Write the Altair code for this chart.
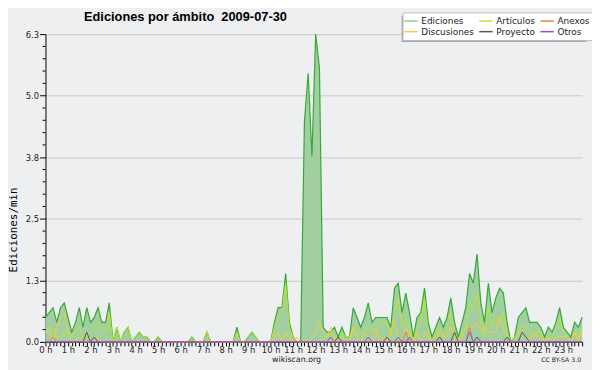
import altair as alt
import pandas as pd

TITLE = "Ediciones por ámbito\u00a0 2009-07-30"
Y_TITLE = "Ediciones/min"
FOOTER_LEFT = "wikiscan.org"
FOOTER_RIGHT = "CC BY-SA 3.0"

# legend is filled column by column: (Ediciones, Discusiones), (Artículos, Proyecto), (Anexos, Otros)
SERIES = ["Ediciones", "Discusiones", "Artículos", "Proyecto", "Anexos", "Otros"]
LEGEND_COLORS = ["#8fd08f", "#f8c840", "#bde52e", "#555555", "#f07848", "#8a4ff0"]
AREA_FILL = "#a2cfa2"
EDIT_LINE = "#36a836"
BG = "#eeeff1"

# one point every 10 minutes, 00:00 .. 23:50
MINUTES = list(range(0, 1440, 10))

Y_TICKS = [0.0, 1.26, 2.52, 3.78, 5.04, 6.3]
Y_MINOR = [0.252, 0.504, 0.756, 1.008, 1.512, 1.764, 2.016, 2.268, 2.772, 3.024,
           3.276, 3.528, 4.032, 4.284, 4.536, 4.788, 5.292, 5.544, 5.796, 6.048]

EDICIONES = [
    0.5, 0.6, 0.7, 0.4, 0.7, 0.8,   # 0 h
    0.5, 0.2, 0.4, 0.7, 0.3, 0.7,   # 1 h
    0.4, 0.5, 0.7, 0.4, 0.4, 0.8,   # 2 h
    0.0, 0.3, 0.0, 0.2, 0.3, 0.0,   # 3 h
    0.1, 0.2, 0.1, 0.1, 0.0, 0.0,   # 4 h
    0.1, 0.0, 0.0, 0.0, 0.0, 0.0,   # 5 h
    0.0, 0.0, 0.0, 0.1, 0.0, 0.0,   # 6 h
    0.0, 0.2, 0.0, 0.0, 0.0, 0.0,   # 7 h
    0.0, 0.0, 0.0, 0.3, 0.0, 0.0,   # 8 h
    0.1, 0.2, 0.1, 0.0, 0.0, 0.0,   # 9 h
    0.0, 0.4, 0.7, 0.7, 1.4, 0.4,   # 10 h
    0.1, 0.0, 0.0, 4.5, 5.5, 3.8,   # 11 h
    6.3, 5.6, 0.3, 0.2, 0.2, 0.3,   # 12 h
    0.1, 0.3, 0.1, 0.1, 0.7, 0.5,   # 13 h
    0.3, 0.5, 0.8, 0.4, 0.5, 0.5,   # 14 h
    0.5, 0.5, 0.3, 1.1, 1.2, 0.6,   # 15 h
    1.0, 0.6, 0.1, 0.5, 0.6, 1.1,   # 16 h
    0.4, 0.1, 0.3, 0.5, 0.3, 0.5,   # 17 h
    0.9, 0.4, 0.1, 0.4, 0.7, 1.4,   # 18 h
    1.2, 1.8, 0.8, 0.4, 1.2, 0.6,   # 19 h
    0.9, 1.1, 1.0, 0.4, 0.0, 0.1,   # 20 h
    0.5, 0.6, 0.7, 0.4, 0.4, 0.4,   # 21 h
    0.3, 0.1, 0.3, 0.2, 0.4, 0.7,   # 22 h
    0.3, 0.2, 0.1, 0.4, 0.3, 0.5,   # 23 h
]

ARTICULOS = [
    0.2, 0.3, 0.2, 0.1, 0.1, 0.2,
    0.2, 0.1, 0.2, 0.3, 0.1, 0.1,
    0.2, 0.3, 0.4, 0.2, 0.2, 0.6,
    0.0, 0.3, 0.0, 0.2, 0.3, 0.0,
    0.1, 0.2, 0.1, 0.1, 0.0, 0.0,
    0.1, 0.0, 0.0, 0.0, 0.0, 0.0,
    0.0, 0.0, 0.0, 0.1, 0.0, 0.0,
    0.0, 0.2, 0.0, 0.0, 0.0, 0.0,
    0.0, 0.0, 0.0, 0.2, 0.0, 0.0,
    0.1, 0.2, 0.1, 0.0, 0.0, 0.0,
    0.0, 0.3, 0.5, 0.6, 1.2, 0.3,
    0.1, 0.0, 0.0, 0.0, 0.0, 0.0,
    0.0, 0.0, 0.1, 0.1, 0.2, 0.1,
    0.0, 0.2, 0.1, 0.1, 0.3, 0.2,
    0.2, 0.2, 0.3, 0.2, 0.3, 0.4,
    0.4, 0.4, 0.1, 0.6, 0.9, 0.3,
    0.5, 0.3, 0.0, 0.3, 0.4, 0.9,
    0.2, 0.0, 0.2, 0.3, 0.1, 0.3,
    0.6, 0.2, 0.0, 0.2, 0.3, 0.8,
    0.7, 1.0, 0.4, 0.1, 0.7, 0.3,
    0.5, 0.4, 0.6, 0.2, 0.0, 0.1,
    0.2, 0.3, 0.3, 0.2, 0.1, 0.2,
    0.2, 0.0, 0.1, 0.1, 0.3, 0.5,
    0.2, 0.1, 0.0, 0.2, 0.1, 0.3,
]

DISCUSIONES = [
    0.2, 0.2, 0.0, 0.3, 0.5, 0.6,
    0.2, 0.0, 0.0, 0.1, 0.0, 0.0,
    0.0, 0.1, 0.1, 0.0, 0.0, 0.0,
    0.0, 0.0, 0.0, 0.0, 0.0, 0.0,
    0.0, 0.0, 0.0, 0.0, 0.0, 0.0,
    0.0, 0.0, 0.0, 0.0, 0.0, 0.0,
    0.0, 0.0, 0.0, 0.0, 0.0, 0.0,
    0.0, 0.0, 0.0, 0.0, 0.0, 0.0,
    0.0, 0.0, 0.0, 0.0, 0.0, 0.0,
    0.0, 0.0, 0.0, 0.0, 0.0, 0.0,
    0.0, 0.1, 0.2, 0.0, 0.2, 0.1,
    0.0, 0.1, 0.0, 0.0, 0.0, 0.1,
    0.2, 0.4, 0.2, 0.1, 0.3, 0.0,
    0.0, 0.1, 0.0, 0.0, 0.3, 0.1,
    0.0, 0.2, 0.1, 0.0, 0.3, 0.0,
    0.1, 0.0, 0.2, 0.4, 0.1, 0.0,
    0.3, 0.1, 0.0, 0.2, 0.0, 0.2,
    0.1, 0.0, 0.0, 0.2, 0.1, 0.1,
    0.3, 0.1, 0.0, 0.1, 0.3, 0.3,
    0.3, 0.4, 0.2, 0.3, 0.2, 0.2,
    0.2, 0.5, 0.3, 0.1, 0.0, 0.0,
    0.2, 0.2, 0.1, 0.0, 0.2, 0.1,
    0.1, 0.0, 0.1, 0.0, 0.1, 0.1,
    0.1, 0.1, 0.0, 0.2, 0.0, 0.2,
]

PROYECTO = [
    0.0, 0.0, 0.0, 0.0, 0.0, 0.0,
    0.0, 0.0, 0.0, 0.0, 0.0, 0.2,
    0.0, 0.1, 0.0, 0.0, 0.0, 0.0,
    0.0, 0.0, 0.0, 0.0, 0.0, 0.0,
    0.0, 0.0, 0.0, 0.0, 0.0, 0.0,
    0.0, 0.0, 0.0, 0.0, 0.0, 0.0,
    0.0, 0.0, 0.0, 0.0, 0.0, 0.0,
    0.0, 0.0, 0.0, 0.0, 0.0, 0.0,
    0.0, 0.0, 0.0, 0.0, 0.0, 0.0,
    0.0, 0.0, 0.0, 0.0, 0.0, 0.0,
    0.0, 0.0, 0.0, 0.0, 0.0, 0.0,
    0.0, 0.0, 0.0, 0.0, 0.0, 0.0,
    0.0, 0.0, 0.0, 0.0, 0.0, 0.0,
    0.1, 0.0, 0.0, 0.0, 0.0, 0.0,
    0.0, 0.0, 0.0, 0.0, 0.0, 0.0,
    0.0, 0.1, 0.0, 0.0, 0.0, 0.0,
    0.0, 0.0, 0.0, 0.0, 0.0, 0.0,
    0.0, 0.0, 0.0, 0.1, 0.0, 0.0,
    0.0, 0.2, 0.0, 0.0, 0.0, 0.0,
    0.0, 0.1, 0.0, 0.0, 0.0, 0.0,
    0.0, 0.0, 0.0, 0.1, 0.0, 0.0,
    0.0, 0.2, 0.1, 0.0, 0.0, 0.0,
    0.0, 0.0, 0.0, 0.0, 0.0, 0.0,
    0.0, 0.0, 0.0, 0.0, 0.0, 0.0,
]

ANEXOS = [
    0.0, 0.0, 0.1, 0.0, 0.0, 0.0,
    0.0, 0.0, 0.0, 0.0, 0.0, 0.0,
    0.0, 0.0, 0.0, 0.0, 0.0, 0.0,
    0.0, 0.0, 0.0, 0.0, 0.0, 0.0,
    0.0, 0.0, 0.0, 0.0, 0.0, 0.0,
    0.0, 0.0, 0.0, 0.0, 0.0, 0.0,
    0.0, 0.0, 0.0, 0.0, 0.0, 0.0,
    0.0, 0.0, 0.0, 0.0, 0.0, 0.0,
    0.0, 0.0, 0.0, 0.0, 0.0, 0.0,
    0.0, 0.0, 0.0, 0.0, 0.0, 0.0,
    0.0, 0.0, 0.0, 0.0, 0.0, 0.0,
    0.0, 0.0, 0.0, 0.0, 0.0, 0.0,
    0.0, 0.0, 0.0, 0.0, 0.0, 0.0,
    0.0, 0.0, 0.0, 0.0, 0.0, 0.0,
    0.0, 0.0, 0.0, 0.0, 0.0, 0.0,
    0.0, 0.0, 0.0, 0.0, 0.0, 0.0,
    0.2, 0.0, 0.0, 0.0, 0.0, 0.0,
    0.0, 0.0, 0.0, 0.0, 0.0, 0.0,
    0.0, 0.0, 0.0, 0.0, 0.0, 0.3,
    0.0, 0.0, 0.0, 0.0, 0.0, 0.0,
    0.0, 0.0, 0.0, 0.0, 0.0, 0.0,
    0.0, 0.0, 0.0, 0.0, 0.0, 0.0,
    0.0, 0.0, 0.0, 0.0, 0.0, 0.0,
    0.0, 0.0, 0.0, 0.0, 0.0, 0.0,
]

OTROS = [
    0.0, 0.0, 0.0, 0.0, 0.0, 0.0,
    0.0, 0.0, 0.0, 0.0, 0.0, 0.0,
    0.0, 0.0, 0.0, 0.0, 0.0, 0.0,
    0.0, 0.0, 0.0, 0.0, 0.0, 0.0,
    0.0, 0.0, 0.0, 0.0, 0.0, 0.0,
    0.0, 0.0, 0.0, 0.0, 0.0, 0.0,
    0.0, 0.0, 0.0, 0.0, 0.0, 0.0,
    0.0, 0.0, 0.0, 0.0, 0.0, 0.0,
    0.0, 0.0, 0.0, 0.0, 0.0, 0.0,
    0.0, 0.0, 0.0, 0.0, 0.0, 0.0,
    0.0, 0.0, 0.0, 0.0, 0.0, 0.0,
    0.0, 0.0, 0.0, 0.0, 0.0, 0.0,
    0.0, 0.0, 0.0, 0.0, 0.1, 0.0,
    0.0, 0.0, 0.0, 0.0, 0.0, 0.0,
    0.0, 0.0, 0.1, 0.0, 0.0, 0.0,
    0.0, 0.0, 0.0, 0.0, 0.1, 0.0,
    0.0, 0.1, 0.0, 0.0, 0.0, 0.0,
    0.0, 0.0, 0.0, 0.0, 0.0, 0.0,
    0.0, 0.0, 0.0, 0.0, 0.0, 0.2,
    0.0, 0.0, 0.0, 0.0, 0.0, 0.0,
    0.0, 0.0, 0.0, 0.0, 0.0, 0.0,
    0.0, 0.0, 0.0, 0.0, 0.0, 0.0,
    0.0, 0.0, 0.0, 0.0, 0.0, 0.0,
    0.0, 0.0, 0.0, 0.0, 0.0, 0.0,
]


def frame(name, values):
    return pd.DataFrame({"min": MINUTES, "v": values, "serie": name})


x_axis = alt.Axis(
    values=MINUTES,
    labelExpr="datum.value % 60 == 0 ? (datum.value / 60) + ' h' : ''",
    labelOverlap=False, labelFlush=False, labelAngle=0,
    tickSize=4, tickColor="black", domainColor="black",
    labelFont="DejaVu Sans", labelFontSize=8.5, labelColor="#222222",
    labelPadding=0, grid=False, title=None,
)
y_axis = alt.Axis(
    values=Y_TICKS, format=".1f",
    tickSize=6, tickColor="black", domainColor="black",
    labelFont="DejaVu Sans", labelFontSize=8.5, labelColor="#222222",
    labelPadding=1, labelOverlap=False, labelFlush=False,
    grid=True, gridColor="#c9c9c9",
    title=Y_TITLE, titleFont="DejaVu Sans Mono", titleFontSize=11,
    titleFontWeight="normal", titleColor="black", titleAngle=270,
    titleAlign="center", titleBaseline="middle", titleX=-32, titleY=198,
)

X = alt.X("min:Q", scale=alt.Scale(domain=[0, 1430], nice=False, zero=False), axis=x_axis)
Y = alt.Y("v:Q", scale=alt.Scale(domain=[0, 6.3], nice=False), axis=y_axis)

color_scale = alt.Scale(domain=SERIES, range=LEGEND_COLORS)
legend = alt.Legend(
    orient="none", legendX=362, legendY=-22, columns=3, title=None,
    symbolType="M-1.5,0H1.5", symbolSize=81, symbolStrokeWidth=1.5,
    labelFont="DejaVu Sans", labelFontSize=9, labelColor="#222222",
    fillColor="white", strokeColor="#bdbdbd", padding=3,
    columnPadding=1, rowPadding=0, labelOffset=5,
)
COLOR = alt.Color("serie:N", scale=color_scale, legend=legend)

one = pd.DataFrame({"t": [""]})

shadow = alt.Chart(one).mark_rect(color="#a9a9a9").encode(
    x=alt.value(361), x2=alt.value(548), y=alt.value(-18), y2=alt.value(8)
)

ed = frame("Ediciones", EDICIONES)
area = alt.Chart(ed).mark_area(color=AREA_FILL).encode(x=X, y=Y)
ed_line = alt.Chart(ed).mark_line(color=EDIT_LINE, strokeWidth=1.2).encode(x=X, y=Y)

minor_ticks = alt.Chart(pd.DataFrame({"v": Y_MINOR})).mark_rule(color="black").encode(
    y=Y, x=alt.value(-3), x2=alt.value(0)
)

lines = []
for name, vals in [("Artículos", ARTICULOS), ("Discusiones", DISCUSIONES),
                   ("Proyecto", PROYECTO), ("Anexos", ANEXOS), ("Otros", OTROS)]:
    lines.append(
        alt.Chart(frame(name, vals)).mark_line(strokeWidth=1).encode(x=X, y=Y, color=COLOR)
    )

title = alt.Chart(pd.DataFrame({"t": [TITLE]})).mark_text(
    align="left", baseline="alphabetic", font="Liberation Sans",
    fontSize=13, fontWeight="bold", color="black"
).encode(text="t:N", x=alt.value(39), y=alt.value(-13.5))

foot_l = alt.Chart(pd.DataFrame({"t": [FOOTER_LEFT]})).mark_text(
    align="center", baseline="alphabetic", font="DejaVu Sans", fontSize=8, color="#222222"
).encode(text="t:N", x=alt.value(254.5), y=alt.value(332))

foot_r = alt.Chart(pd.DataFrame({"t": [FOOTER_RIGHT]})).mark_text(
    align="right", baseline="alphabetic", font="DejaVu Sans", fontSize=6.3, color="#222222"
).encode(text="t:N", x=alt.value(543), y=alt.value(332))

chart = alt.layer(
    shadow, area, ed_line, *lines, minor_ticks, title, foot_l, foot_r
).properties(
    width=544, height=312,
    padding={"left": 38, "top": 24, "right": 10, "bottom": 26},
    autosize=alt.AutoSizeParams(type="none"),
    background=BG,
).configure_view(stroke=None)

chart.save("out.html", embed_options={"renderer": "svg", "actions": False})
